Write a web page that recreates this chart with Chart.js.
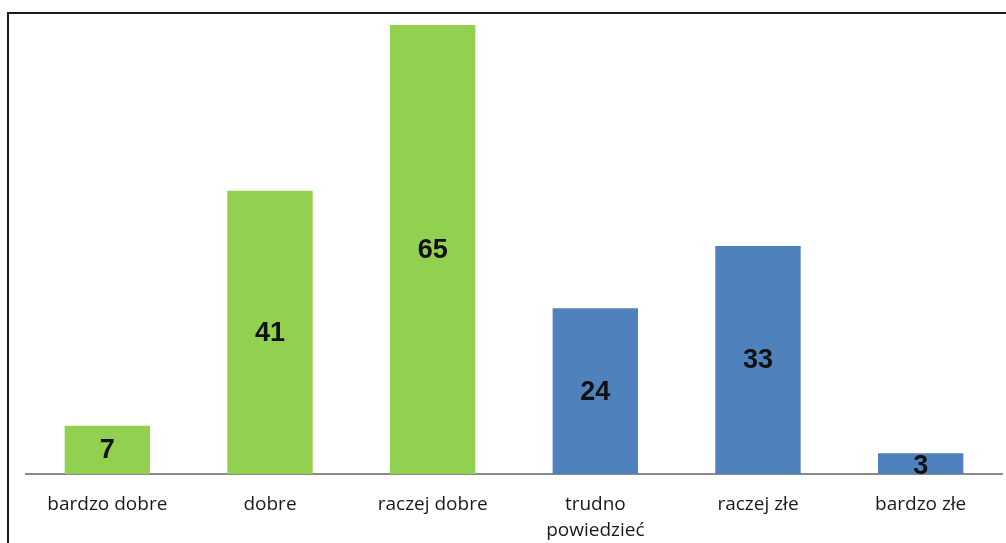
<!DOCTYPE html>
<html>
<head>
<meta charset="utf-8">
<script src="https://cdn.jsdelivr.net/npm/chart.js@4"></script>
<style>
  html, body { margin: 0; padding: 0; background: #fff; }
  #wrap { position: relative; width: 1006px; height: 543px; overflow: hidden; }
  #ramka {
    position: absolute; left: 7px; top: 12px; width: 1100px; height: 700px;
    border-top: 2px solid #1c1c1c; border-left: 2px solid #1c1c1c;
  }
  canvas { position: absolute; left: 0; top: 0; }
</style>
</head>
<body>
<div id="wrap">
  <div id="ramka"></div>
  <canvas id="wykres" width="1006" height="543"></canvas>
</div>
<script>
var kategorie = ['bardzo dobre', 'dobre', 'raczej dobre', ['trudno', 'powiedzieć'], 'raczej złe', 'bardzo złe'];
var wartosci = [7, 41, 65, 24, 33, 3];
var kolory = ['#92D050', '#92D050', '#92D050', '#4F81BD', '#4F81BD', '#4F81BD'];

// etykiety z wartościami na środku słupków
var etykietySlupkow = {
  id: 'etykietySlupkow',
  afterDatasetsDraw: function (chart) {
    var ctx = chart.ctx;
    var meta = chart.getDatasetMeta(0);
    ctx.save();
    ctx.font = 'bold 27px "Liberation Sans", Arial, sans-serif';
    ctx.fillStyle = '#111';
    ctx.textAlign = 'center';
    ctx.textBaseline = 'middle';
    meta.data.forEach(function (bar, i) {
      var y = (bar.y + bar.base) / 2;
      if (bar.base - bar.y < 30) { y = bar.base - 8; }
      ctx.fillText(String(wartosci[i]), bar.x, y + 1);
    });
    ctx.restore();
  }
};

var ctx = document.getElementById('wykres');
var wykres = new Chart(ctx, {
  type: 'bar',
  plugins: [etykietySlupkow],
  data: {
    labels: kategorie,
    datasets: [{
      data: wartosci,
      backgroundColor: kolory,
      borderWidth: 0,
      barPercentage: 0.525,
      categoryPercentage: 1
    }]
  },
  options: {
    responsive: false,
    animation: false,
    layout: {
      padding: { left: 26, right: 4, top: 25, bottom: 0 }
    },
    plugins: {
      legend: { display: false },
      tooltip: { enabled: false },
      title: { display: false }
    },
    scales: {
      x: {
        grid: { display: false, drawTicks: false },
        border: { display: true, color: '#8a8a8a', width: 2 },
        ticks: {
          color: '#1a1a1a',
          padding: 17,
          maxRotation: 0,
          autoSkip: false,
          font: { family: '"Open Sans", sans-serif', size: 19, lineHeight: 1.4 }
        },
        afterFit: function (scale) { scale.height = 69; }
      },
      y: {
        display: false,
        min: 0,
        max: 65
      }
    }
  }
});
</script>
</body>
</html>
